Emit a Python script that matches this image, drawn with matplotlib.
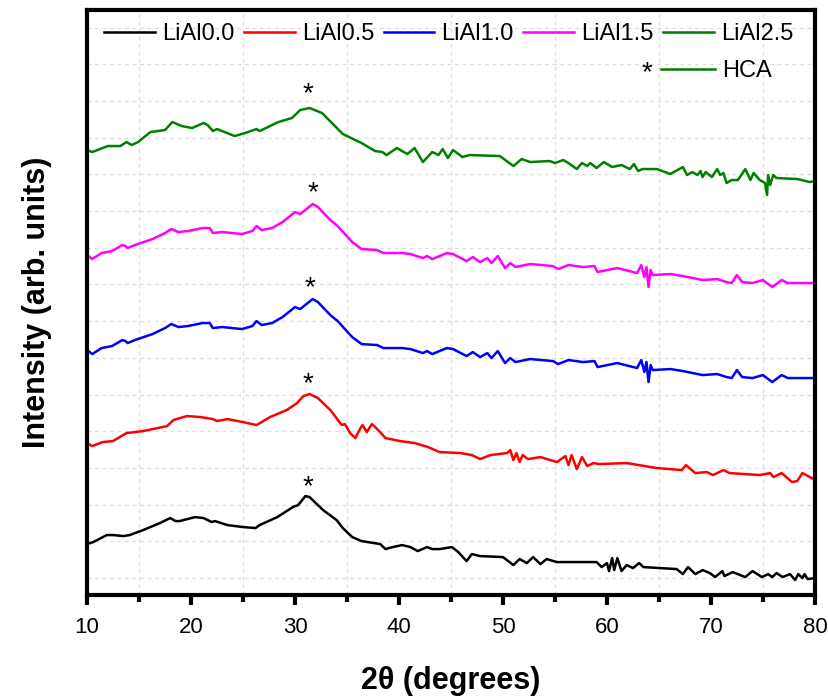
import numpy as np
import matplotlib.pyplot as plt
from matplotlib.lines import Line2D
from matplotlib.ticker import MultipleLocator

plt.rcParams['font.family'] = ['Liberation Sans', 'DejaVu Sans']

# XRD patterns, intensity stacked with offsets (arb. units)
tt_00 = [10.0, 10.6, 11.9, 12.5, 13.5, 14.1, 15.4, 17.0, 18.0, 18.5, 18.9, 20.4, 21.2, 22.0, 22.3,
         23.5, 25.0, 26.2, 26.6, 28.3, 29.8, 30.3, 31.0, 31.4, 32.7, 34.0, 34.6, 35.5, 36.4, 38.2,
         38.7, 39.4, 40.3, 41.1, 41.8, 42.7, 43.2, 43.9, 45.1, 45.7, 46.5, 47.0, 47.8, 50.0, 51.0,
         51.6, 52.3, 52.9, 53.6, 54.2, 55.2, 59.0, 59.5, 60.0, 60.2, 60.5, 60.7, 61.0, 61.4, 61.9,
         62.5, 63.1, 63.5, 66.7, 67.3, 67.8, 68.5, 69.2, 69.9, 70.4, 71.1, 71.3, 72.1, 73.3, 74.0,
         74.9, 75.5, 75.9, 76.3, 76.9, 77.6, 78.1, 78.4, 78.8, 79.0, 79.3, 80.0]
i_00 = [51, 53, 60, 60, 59, 60, 65, 72, 77, 74, 74, 78, 77, 73, 74,
        70, 68, 67, 70, 78, 88, 90, 99, 98, 85, 75, 67, 58, 54, 51,
        46, 48, 50, 48, 44, 48, 46, 46, 48, 43, 34, 41, 39, 38, 30,
        36, 32, 38, 31, 36, 33, 33, 28, 32, 24, 37, 25, 37, 24, 30,
        27, 32, 28, 26, 21, 28, 21, 25, 22, 18, 24, 19, 23, 18, 24,
        18, 21, 18, 22, 18, 21, 15, 21, 17, 21, 16, 17]

tt_05 = [10.0, 10.5, 11.5, 12.5, 13.8, 15.4, 17.7, 18.3, 19.6, 20.9, 22.1, 22.5, 23.5, 25.0, 26.3,
         27.6, 29.2, 30.2, 30.8, 31.4, 32.2, 33.4, 34.5, 34.8, 35.3, 35.8, 36.3, 36.5, 36.9, 37.4,
         38.0, 38.7, 40.1, 41.5, 42.8, 43.9, 45.9, 47.0, 47.8, 48.8, 50.4, 50.7, 51.0, 51.3, 51.6,
         51.9, 52.4, 53.6, 55.2, 56.0, 56.3, 56.6, 57.1, 57.6, 58.1, 58.7, 59.3, 61.9, 64.8, 67.2,
         67.6, 68.5, 69.6, 70.2, 71.2, 71.8, 74.7, 75.7, 76.0, 76.8, 77.8, 78.3, 78.8, 79.7, 80.0]
i_05 = [152, 149, 153, 154, 162, 164, 169, 175, 179, 178, 176, 174, 176, 173, 170,
        178, 185, 192, 199, 201, 197, 185, 170, 171, 162, 157, 167, 170, 163, 171,
        165, 157, 154, 152, 148, 143, 142, 140, 136, 140, 142, 145, 135, 142, 133,
        140, 136, 138, 133, 139, 130, 140, 126, 138, 129, 132, 131, 132, 127, 125,
        130, 122, 123, 120, 125, 122, 120, 122, 118, 122, 113, 114, 122, 117, 115]

tt_10 = [10.0, 10.5, 11.4, 12.4, 13.4, 13.7, 13.9, 14.6, 16.3, 17.5, 18.1, 18.8, 19.7, 21.1, 21.8,
         22.1, 23.0, 24.9, 25.9, 26.3, 26.8, 27.8, 28.8, 30.0, 30.5, 31.7, 32.2, 33.4, 34.1, 35.5,
         36.4, 37.9, 38.5, 40.3, 41.1, 42.3, 42.7, 43.2, 44.6, 45.2, 46.5, 47.1, 47.8, 48.5, 48.9,
         49.5, 50.2, 50.7, 51.2, 52.6, 54.8, 55.3, 56.3, 57.7, 58.8, 59.1, 61.0, 62.9, 63.3, 63.6,
         63.8, 64.0, 64.2, 64.4, 66.1, 67.3, 69.2, 70.6, 71.5, 72.0, 72.5, 73.0, 74.0, 75.0, 75.9,
         76.8, 77.4, 79.5, 80.0]
i_10 = [245, 241, 247, 249, 255, 254, 252, 255, 261, 267, 271, 268, 269, 272, 272,
        267, 268, 266, 269, 274, 270, 272, 278, 288, 286, 296, 293, 280, 274, 258,
        251, 250, 247, 247, 246, 242, 244, 241, 247, 246, 239, 243, 238, 242, 237,
        244, 232, 237, 233, 236, 234, 231, 235, 233, 234, 228, 232, 227, 235, 223,
        233, 213, 230, 225, 226, 224, 220, 221, 218, 217, 225, 218, 217, 220, 213,
        220, 217, 217, 217]

tt_15 = tt_10
i_15 = [340, 336, 342, 344, 350, 349, 347, 350, 356, 362, 366, 363, 364, 367, 367,
        362, 363, 361, 364, 369, 365, 367, 373, 383, 381, 391, 388, 375, 369, 353,
        346, 345, 342, 342, 341, 337, 339, 336, 342, 341, 334, 338, 333, 337, 332,
        339, 327, 332, 328, 331, 329, 326, 330, 328, 329, 323, 327, 322, 330, 318,
        328, 308, 325, 320, 321, 319, 315, 316, 313, 312, 320, 313, 312, 315, 308,
        315, 312, 312, 312]

tt_25 = [10.0, 10.5, 12.0, 13.2, 13.8, 14.3, 14.9, 16.1, 17.5, 18.2, 19.1, 20.1, 21.2, 21.6, 22.1,
         22.5, 24.2, 25.2, 26.3, 26.6, 28.4, 29.7, 30.5, 31.4, 32.6, 34.6, 36.4, 37.7, 38.4, 38.8,
         39.8, 40.8, 41.5, 42.3, 43.2, 43.8, 44.2, 44.7, 45.2, 46.1, 46.8, 49.7, 51.0, 51.8, 52.6,
         54.5, 55.0, 55.8, 56.3, 57.1, 57.6, 58.1, 58.4, 59.0, 59.7, 60.5, 61.4, 62.2, 62.6, 63.0,
         63.4, 64.8, 66.1, 67.3, 67.7, 68.2, 68.7, 69.0, 69.2, 69.5, 70.1, 70.6, 70.9, 71.2, 71.5,
         72.0, 72.6, 73.3, 73.8, 74.1, 74.7, 75.2, 75.4, 75.5, 75.7, 76.0, 76.3, 78.3, 79.5, 80.0]
i_25 = [445, 443, 449, 449, 453, 450, 453, 463, 465, 473, 469, 467, 472, 470, 464,
        466, 459, 462, 466, 464, 473, 477, 485, 487, 482, 461, 452, 444, 443, 440,
        447, 441, 447, 433, 443, 440, 446, 437, 445, 438, 440, 439, 429, 436, 433,
        434, 432, 435, 432, 426, 432, 429, 432, 427, 433, 428, 430, 426, 431, 424,
        426, 426, 421, 428, 420, 423, 420, 424, 418, 423, 418, 426, 420, 422, 412,
        415, 415, 426, 415, 422, 415, 412, 400, 420, 410, 420, 417, 416, 413, 414]

labels = ['LiAl0.0', 'LiAl0.5', 'LiAl1.0', 'LiAl1.5', 'LiAl2.5']
colors = ['black', 'red', 'blue', 'magenta', 'green']
curves = [(tt_00, i_00), (tt_05, i_05), (tt_10, i_10), (tt_15, i_15), (tt_25, i_25)]

# HCA reflection marks (2theta, height)
star_x = [31.2, 31.2, 31.4, 31.7, 31.2]
star_y = [115, 218, 314, 409, 508]

fig = plt.figure(figsize=(8.29, 6.96), dpi=100)
ax = fig.add_axes([0.105, 0.145, 0.878, 0.8406])

for (x, y), c, lab in zip(curves, colors, labels):
    ax.plot(x, y, color=c, lw=1.8, label=lab)

# the asterisk glyph sits high in its box, so nudge it down a little
for x, y in zip(star_x, star_y):
    ax.annotate('*', (x, y), xytext=(0, -5), textcoords='offset points',
                fontsize=20, ha='center', va='center')

ax.set_xlim(10, 80)
ax.set_ylim(0, 585)
ax.xaxis.set_major_locator(MultipleLocator(10))
ax.xaxis.set_minor_locator(MultipleLocator(5))
ax.set_yticks(np.arange(17, 585, 36.7))
ax.set_yticklabels([])
ax.tick_params(axis='y', length=0)
ax.tick_params(axis='x', which='major', direction='out', length=7, width=3, labelsize=16, pad=9)
ax.tick_params(axis='x', which='minor', direction='out', length=5, width=3)
for s in ax.spines.values():
    s.set_linewidth(3)

ax.grid(True, which='minor', axis='x', color='#dcdcdc', ls=(0, (3, 3)), lw=0.9)
ax.grid(True, which='major', axis='y', color='#dcdcdc', ls=(0, (3, 3)), lw=0.9)
ax.set_axisbelow(True)

ax.set_xlabel('2θ (degrees)', fontsize=22, fontweight='bold', labelpad=20)
ax.set_ylabel('Intensity (arb. units)', fontsize=22, fontweight='bold', labelpad=22)

leg = ax.legend(loc='upper left', bbox_to_anchor=(0.006, 1.0), ncol=5, frameon=False, fontsize=17,
                handlelength=2.15, handletextpad=0.3, columnspacing=0.4, borderaxespad=0.15)
ax.add_artist(leg)
ax.legend(handles=[Line2D([], [], color='green', lw=1.8)], labels=['HCA'],
          loc='upper left', bbox_to_anchor=(0.775, 0.93), frameon=False, fontsize=17,
          handlelength=2.3, handletextpad=0.3, borderaxespad=0)
ax.annotate('*', (0.769, 0.894), xycoords='axes fraction', xytext=(0, -1),
            textcoords='offset points', fontsize=20, ha='center', va='center')

fig.savefig('out.png', dpi=100)
